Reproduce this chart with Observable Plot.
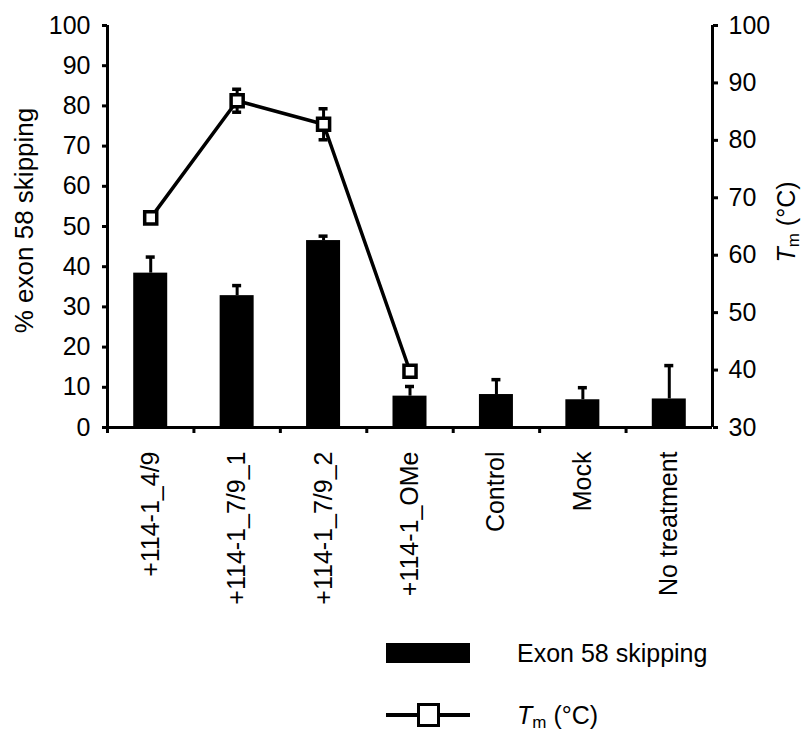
<!DOCTYPE html>
<html>
<head>
<meta charset="utf-8">
<script src="https://cdn.jsdelivr.net/npm/d3@7"></script>
<script src="https://cdn.jsdelivr.net/npm/@observablehq/plot@0.6"></script>
<style>
  body { margin: 0; background: #fff; font-family: "Liberation Sans", Arial, sans-serif; color: #000; }
  #wrap { position: relative; width: 803px; height: 733px; overflow: hidden; }
  #chart svg { display: block; }
  .lg { position: absolute; }
  .lgtext { position: absolute; font-size: 25px; line-height: 30px; white-space: nowrap; }
</style>
</head>
<body>
<div id="wrap">
  <div id="chart"></div>
  <div class="lg" style="left:386px;top:643px;width:84px;height:20px;background:#000;"></div>
  <div class="lgtext" style="left:517px;top:638px;">Exon 58 skipping</div>
  <div class="lg" style="left:386px;top:713px;width:84px;height:4px;background:#000;"></div>
  <div class="lg" style="left:417px;top:703px;width:23px;height:24px;box-sizing:border-box;border:3.5px solid #000;background:#fff;"></div>
  <div class="lgtext" style="left:517px;top:700px;"><i>T</i><sub style="font-size:17px;vertical-align:-4px;">m</sub> (°C)</div>
</div>
<script>
// ---- data ----
const categories = ["+114-1_4/9", "+114-1_7/9_1", "+114-1_7/9_2", "+114-1_OMe", "Control", "Mock", "No treatment"];
const skipping = [38.4, 32.8, 46.5, 7.8, 8.2, 6.9, 7.1];
const skippingErr = [4.0, 2.5, 1.1, 2.4, 3.7, 3.0, 8.3];
const tmCategories = ["+114-1_4/9", "+114-1_7/9_1", "+114-1_7/9_2", "+114-1_OMe"];
const tmValues = [66.5, 86.9, 82.8, 39.8];
const tmErr = [0.4, 2.0, 2.7, 0.4];
const leftTicks = [0, 10, 20, 30, 40, 50, 60, 70, 80, 90, 100];
const rightTicks = [30, 40, 50, 60, 70, 80, 90, 100];

// map Tm (30..100) onto the left scale (0..100)
const toLeft = t => (t - 30) * 100 / 70;
const fromLeft = v => 30 + v * 70 / 100;

const bars = categories.map((c, i) => ({cat: c, v: skipping[i], e: skippingErr[i]}));
const tm = tmCategories.map((c, i) => ({
  cat: c,
  t: toLeft(tmValues[i]),
  lo: toLeft(tmValues[i] - tmErr[i]),
  hi: toLeft(tmValues[i] + tmErr[i])
}));

const W = 803, H = 630, ML = 107, MR = 91, MT = 25, MB = H - 427;
const bw = (W - ML - MR) / categories.length;
const barInset = (bw - 34) / 2;
const capInset = (bw - 9) / 2;
const font = '"Liberation Sans", Arial, sans-serif';

const svg = Plot.plot({
  width: W, height: H,
  marginLeft: ML, marginRight: MR, marginTop: MT, marginBottom: MB,
  style: {fontFamily: font, fontSize: "25px", color: "#000", background: "#fff", overflow: "visible"},
  x: {domain: categories, padding: 0, round: false, axis: null},
  y: {domain: [0, 100], axis: null},
  marks: [
    Plot.barY(bars, {x: "cat", y: "v", fill: "#000", insetLeft: barInset, insetRight: barInset}),
    Plot.ruleX(bars, {x: "cat", y1: "v", y2: d => d.v + d.e, stroke: "#000", strokeWidth: 3}),
    Plot.tickY(bars, {x: "cat", y: d => d.v + d.e, stroke: "#000", strokeWidth: 3.5, insetLeft: capInset, insetRight: capInset}),
    Plot.ruleX(tm, {x: "cat", y1: "lo", y2: "hi", stroke: "#000", strokeWidth: 3}),
    Plot.tickY(tm, {x: "cat", y: "hi", stroke: "#000", strokeWidth: 3.5, insetLeft: capInset, insetRight: capInset}),
    Plot.tickY(tm, {x: "cat", y: "lo", stroke: "#000", strokeWidth: 3.5, insetLeft: capInset, insetRight: capInset}),
    Plot.line(tm, {x: "cat", y: "t", stroke: "#000", strokeWidth: 3.5}),
    Plot.dot(tm, {x: "cat", y: "t", symbol: "square", r: 6.8, fill: "#fff", stroke: "#000", strokeWidth: 3.5}),
    // axis lines
    Plot.ruleY([0], {stroke: "#000", strokeWidth: 3}),
    Plot.ruleX([categories[0]], {x: d => d, dx: -bw / 2, stroke: "#000", strokeWidth: 3}),
    Plot.ruleX([categories[categories.length - 1]], {x: d => d, dx: bw / 2, stroke: "#000", strokeWidth: 3}),
    // left axis
    Plot.axisY({anchor: "left", ticks: leftTicks, tickSize: 5, tickPadding: 12, strokeWidth: 3, fontSize: 25, label: null}),
    // right axis (Tm)
    Plot.axisY({anchor: "right", ticks: rightTicks.map(toLeft), tickFormat: d => Math.round(fromLeft(d)), tickSize: 5, tickPadding: 11, strokeWidth: 3, fontSize: 25, label: null}),
    // bottom axis ticks between categories
    Plot.axisX({ticks: categories, tickSize: 6, dx: -bw / 2, strokeWidth: 3, tickFormat: () => "", label: null}),
    // category labels
    Plot.axisX({ticks: categories, tickSize: 0, tickPadding: 24, tickRotate: -90, fontSize: 25, label: null}),
    // left title
    Plot.text(["% exon 58 skipping"], {text: d => d, frameAnchor: "left", textAnchor: "middle", dx: -83, dy: -6, rotate: -90, fontSize: 26, fill: "#000"})
  ]
});

// right axis title with italic T and subscript m
const s = d3.select(svg);
const t = s.append("text")
  .attr("transform", "translate(795,222) rotate(-90)")
  .attr("text-anchor", "middle")
  .attr("font-family", font)
  .attr("font-size", 25)
  .attr("fill", "#000");
t.append("tspan").attr("font-style", "italic").text("T");
t.append("tspan").attr("font-size", 17).attr("dy", 4).text("m");
t.append("tspan").attr("dy", -4).text(" (°C)");

document.getElementById("chart").appendChild(svg);
</script>
</body>
</html>
